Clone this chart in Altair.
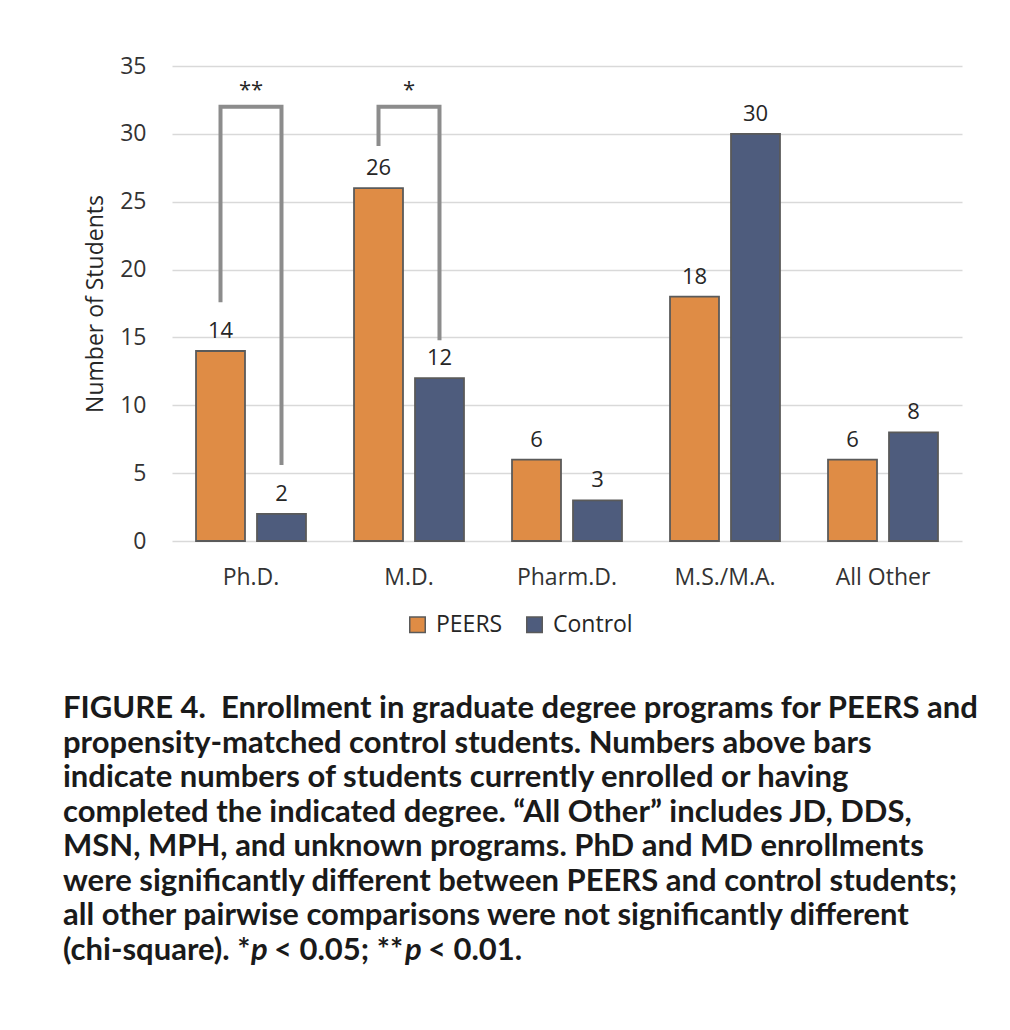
import altair as alt
import pandas as pd

categories = ["Ph.D.", "M.D.", "Pharm.D.", "M.S./M.A.", "All Other"]
groups = ["PEERS", "Control"]
peers = [14, 26, 6, 18, 6]
control = [2, 12, 3, 30, 8]
colors = ["#DF8C45", "#4E5C7D"]

# significance brackets: category, group (leg), value, order
br_id = ["a", "a", "a", "a", "b", "b", "b", "b"]
br_cat = ["Ph.D.", "Ph.D.", "Ph.D.", "Ph.D.", "M.D.", "M.D.", "M.D.", "M.D."]
br_grp = ["PEERS", "PEERS", "Control", "Control", "PEERS", "PEERS", "Control", "Control"]
br_val = [17.6, 32.0, 32.0, 5.6, 29.1, 32.0, 32.0, 14.8]
br_ord = [0, 1, 2, 3, 0, 1, 2, 3]
star_cat = ["Ph.D.", "M.D."]
star_txt = ["**", "*"]
star_val = [33.2, 33.2]

caption_lines = [
    "FIGURE 4. \u00a0Enrollment in graduate degree programs for PEERS and",
    "propensity-matched control students. Numbers above bars",
    "indicate numbers of students currently enrolled or having",
    "completed the indicated degree. \u201cAll Other\u201d includes JD, DDS,",
    "MSN, MPH, and unknown programs. PhD and MD enrollments",
    "were significantly different between PEERS and control students;",
    "all other pairwise comparisons were not significantly different",
]
last_segments = ["(chi-square). *", "p", "< 0.05; **", "p", "< 0.01."]
last_italic = [False, True, False, True, False]
last_x = [-109, 79, 102, 233, 256]

rows = []
for c, p, k in zip(categories, peers, control):
    rows.append({"cat": c, "grp": "PEERS", "val": p})
    rows.append({"cat": c, "grp": "Control", "val": k})
df = pd.DataFrame(rows)

br = pd.DataFrame({"id": br_id, "cat": br_cat, "grp": br_grp, "val": br_val, "ord": br_ord})
stars = pd.DataFrame({"cat": star_cat, "txt": star_txt, "val": star_val})

FONT = "Open Sans"
CAP_FONT = "Lato"
CAP_SIZE = 31
x_scale = alt.Scale(domain=categories, paddingInner=0.304, paddingOuter=0.152)
xo_scale = alt.Scale(domain=groups, paddingInner=0.197, paddingOuter=0)
y_scale = alt.Scale(domain=[0, 35], nice=False)

x_enc = alt.X("cat:N", scale=x_scale, sort=categories,
              axis=alt.Axis(title=None, labelAngle=0, labelFont=FONT, labelFontSize=23,
                            labelColor="#333333", labelPadding=25, ticks=False,
                            domain=False, grid=False))
xo_enc = alt.XOffset("grp:N", scale=xo_scale, sort=groups)

bars = alt.Chart(df).mark_bar(stroke="#5A5A5A", strokeWidth=1.8).encode(
    x=x_enc,
    xOffset=xo_enc,
    y=alt.Y("val:Q", scale=y_scale,
            axis=alt.Axis(title="Number of Students", values=[0, 5, 10, 15, 20, 25, 30, 35],
                          titleFont=FONT, titleFontSize=23, titleFontWeight="normal",
                          titleColor="#262626", titlePadding=12,
                          labelFont=FONT, labelFontSize=23, labelColor="#333333",
                          labelPadding=26, ticks=False, domain=False,
                          gridColor="#D9D9D9", gridWidth=1.6)),
    color=alt.Color("grp:N", scale=alt.Scale(domain=groups, range=colors), sort=groups,
                    legend=alt.Legend(title=None, orient="none", direction="horizontal",
                                      legendX=234, legendY=547,
                                      symbolType="square", symbolSize=240,
                                      symbolStrokeColor="#5A5A5A", symbolStrokeWidth=1.5,
                                      labelFont=FONT, labelFontSize=23, labelColor="#262626",
                                      labelOffset=7, columnPadding=20)),
)

labels = alt.Chart(df).mark_text(font=FONT, fontSize=22, color="#262626",
                                 baseline="alphabetic", dy=-13).encode(
    x=alt.X("cat:N", scale=x_scale, sort=categories),
    xOffset=xo_enc,
    y=alt.Y("val:Q", scale=y_scale),
    text="val:Q",
)

brackets = alt.Chart(br).mark_line(color="#8C8C8C", strokeWidth=4, strokeCap="butt",
                                   strokeJoin="miter").encode(
    x=alt.X("cat:N", scale=x_scale, sort=categories),
    xOffset=xo_enc,
    y=alt.Y("val:Q", scale=y_scale),
    detail="id:N",
    order="ord:Q",
)

star_marks = alt.Chart(stars).mark_text(font=FONT, fontSize=22, color="#262626",
                                        baseline="middle").encode(
    x=alt.X("cat:N", scale=x_scale, sort=categories),
    y=alt.Y("val:Q", scale=y_scale),
    text="txt:N",
)

LINE0 = 652
STEP = 34.5
cap_layers = []
for i, line in enumerate(caption_lines):
    cap_layers.append(
        alt.Chart(pd.DataFrame({"t": [line]})).mark_text(
            font=CAP_FONT, fontSize=CAP_SIZE, fontWeight="bold", color="#1A1A1A",
            align="left", baseline="alphabetic").encode(
            x=alt.value(-109), y=alt.value(LINE0 + STEP * i), text="t:N")
    )
last_y = LINE0 + STEP * len(caption_lines)
for s, it, xv in zip(last_segments, last_italic, last_x):
    cap_layers.append(
        alt.Chart(pd.DataFrame({"t": [s]})).mark_text(
            font=CAP_FONT, fontSize=CAP_SIZE, fontWeight="bold", color="#1A1A1A",
            fontStyle="italic" if it else "normal",
            align="left", baseline="alphabetic").encode(
            x=alt.value(xv), y=alt.value(last_y), text="t:N")
    )

chart = alt.layer(bars, labels, brackets, star_marks, *cap_layers).properties(
    width=790, height=475,
    autosize=alt.AutoSizeParams(type="none"),
    padding={"left": 164, "top": 58, "right": 30, "bottom": 460},
).configure_view(stroke=None)

chart.save("out.html", embed_options={"renderer": "svg", "actions": False})
